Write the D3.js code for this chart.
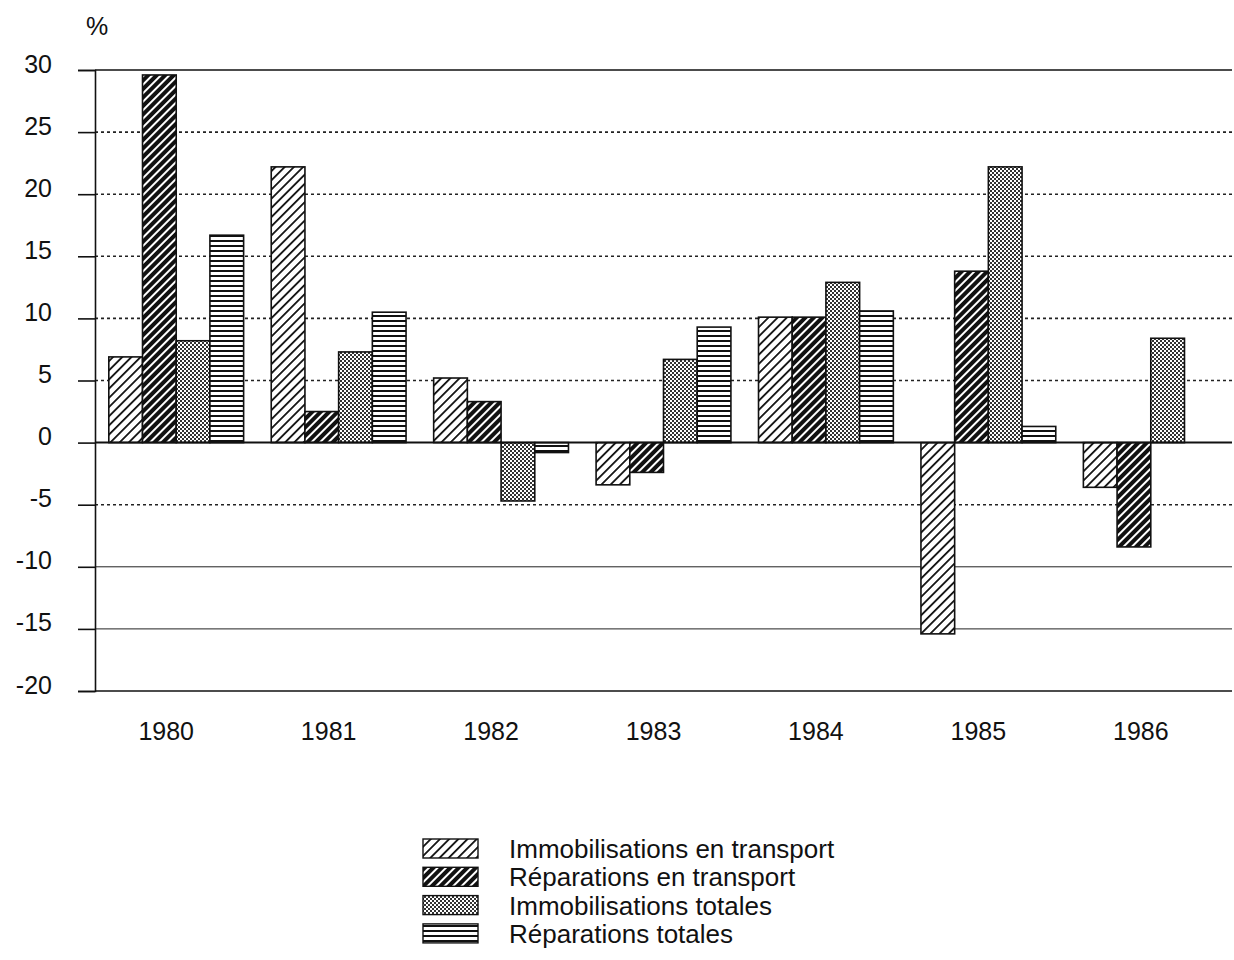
<!DOCTYPE html>
<html><head><meta charset="utf-8">
<script src="https://cdn.jsdelivr.net/npm/d3@7"></script>
<style>body{margin:0;background:#fff;} text{font-family:"Liberation Sans",Arial,Helvetica,sans-serif;fill:#111;}</style>
</head><body>
<svg id="c" width="1234" height="960"></svg>
<script>
const years = ["1980","1981","1982","1983","1984","1985","1986"];
const seriesNames = ["Immobilisations en transport","Réparations en transport","Immobilisations totales","Réparations totales"];
const immoTransport = [6.9, 22.2, 5.2, -3.4, 10.1, -15.4, -3.6];
const repTransport  = [29.6, 2.5, 3.3, -2.4, 10.1, 13.8, -8.4];
const immoTotales   = [8.2, 7.3, -4.7, 6.7, 12.9, 22.2, 8.4];
const repTotales    = [16.7, 10.5, -0.8, 9.3, 10.6, 1.3, 0];
const yTicks = [30,25,20,15,10,5,0,-5,-10,-15,-20];

(function(){
const svg = d3.select("#c");
const defs = svg.append("defs");
const p1 = defs.append("pattern").attr("id","p0").attr("patternUnits","userSpaceOnUse").attr("width",6.5).attr("height",6.5).attr("patternTransform","rotate(45)");
p1.append("rect").attr("width",6.5).attr("height",6.5).attr("fill","#fff");
p1.append("rect").attr("x",0).attr("y",0).attr("width",1.8).attr("height",6.5).attr("fill","#111");
const p2 = defs.append("pattern").attr("id","p1").attr("patternUnits","userSpaceOnUse").attr("width",6).attr("height",6).attr("patternTransform","rotate(45)");
p2.append("rect").attr("width",6).attr("height",6).attr("fill","#fff");
p2.append("rect").attr("x",0).attr("y",0).attr("width",4).attr("height",6).attr("fill","#111");
const p3 = defs.append("pattern").attr("id","p2").attr("patternUnits","userSpaceOnUse").attr("width",4).attr("height",4);
p3.append("rect").attr("width",4).attr("height",4).attr("fill","#fff");
p3.append("rect").attr("x",0).attr("y",0).attr("width",2).attr("height",2).attr("fill","#333");
p3.append("rect").attr("x",2).attr("y",2).attr("width",2).attr("height",2).attr("fill","#333");
const p4 = defs.append("pattern").attr("id","p3").attr("patternUnits","userSpaceOnUse").attr("width",5).attr("height",5);
p4.append("rect").attr("width",5).attr("height",5).attr("fill","#fff");
p4.append("rect").attr("x",0).attr("y",0).attr("width",5).attr("height",2).attr("fill","#111");

const mLeft = 95, mRight = 1232, mTop = 70, mBottom = 691;
const y = d3.scaleLinear().domain([-20,30]).range([mBottom, mTop]);
const x = d3.scaleBand().domain(years).range([mLeft, mRight]).paddingInner(0.17).paddingOuter(0.085);
const xs = d3.scaleBand().domain(d3.range(4)).range([0, x.bandwidth()]);

const grid = svg.append("g");
yTicks.forEach(t => {
  if (t === 30 || t === 0 || t === -20) return;
  const solid = (t===-10||t===-15);
  grid.append("line").attr("x1",mLeft).attr("x2",mRight).attr("y1",y(t)).attr("y2",y(t))
    .attr("stroke", "#222").attr("stroke-width", solid?1:1.6)
    .attr("stroke-dasharray", solid?null:"3,3");
});
svg.append("line").attr("x1",mLeft).attr("x2",mRight).attr("y1",y(30)).attr("y2",y(30)).attr("stroke","#111").attr("stroke-width",1.5);

const all = [immoTransport, repTransport, immoTotales, repTotales];
all.forEach((vals, si) => {
  svg.append("g").selectAll("rect").data(vals.map((v,i)=>({v,i})).filter(d=>d.v!==0)).join("rect")
    .attr("x",d=>x(years[d.i])+xs(si))
    .attr("y",d=>y(Math.max(0,d.v)))
    .attr("width",xs.bandwidth())
    .attr("height",d=>Math.abs(y(d.v)-y(0)))
    .attr("fill",`url(#p${si})`).attr("stroke","#111").attr("stroke-width",1.6);
});

svg.append("line").attr("x1",mLeft).attr("x2",mRight).attr("y1",y(0)).attr("y2",y(0)).attr("stroke","#111").attr("stroke-width",2);

const yAxis = svg.append("g").attr("transform",`translate(${mLeft},0)`)
  .call(d3.axisLeft(y).tickValues(yTicks).tickSize(17).tickPadding(26).tickFormat(d=>String(d)));
yAxis.select(".domain").attr("stroke","#111").attr("stroke-width",1.6);
yAxis.selectAll(".tick line").attr("stroke","#111").attr("stroke-width",1.6);
yAxis.selectAll("text").style("font-size","25px").style("font-family","'Liberation Sans',Arial,sans-serif").attr("fill","#111").attr("y",-6);

const xAxis = svg.append("g").attr("transform",`translate(0,${mBottom})`)
  .call(d3.axisBottom(x).tickSize(0).tickPadding(31));
xAxis.select(".domain").attr("stroke","#111").attr("stroke-width",1.6).attr("d",`M${mLeft},0H${mRight}`);
xAxis.selectAll("text").style("font-size","25px").style("font-family","'Liberation Sans',Arial,sans-serif").attr("fill","#111").attr("dx",-10);

svg.append("text").attr("x",86).attr("y",35).style("font-size","25px").text("%");

const lg = svg.append("g");
seriesNames.forEach((n,i)=>{
  const yy = 839 + i*28.3;
  lg.append("rect").attr("x",423).attr("y",yy).attr("width",55).attr("height",19)
    .attr("fill",`url(#p${i})`).attr("stroke","#111").attr("stroke-width",1.4);
  lg.append("text").attr("x",509).attr("y",yy+19).style("font-size","26px").text(n);
});
})();
</script>
</body></html>
